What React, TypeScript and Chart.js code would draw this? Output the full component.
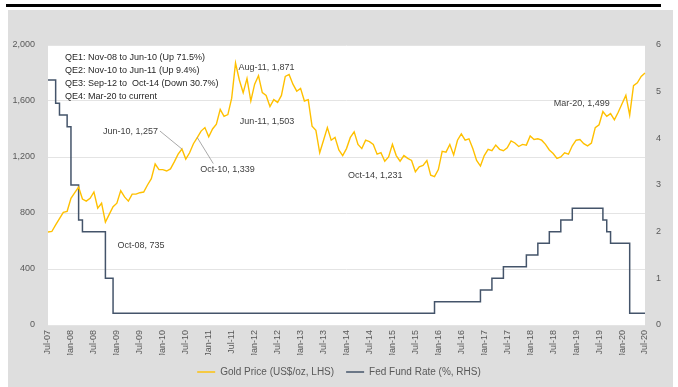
import React, { useEffect, useRef } from 'react';
import { Chart, registerables } from 'chart.js';

Chart.register(...registerables);

const months = [
  'Jul-07', 'Aug-07', 'Sep-07', 'Oct-07', 'Nov-07', 'Dec-07',
  'Jan-08', 'Feb-08', 'Mar-08', 'Apr-08', 'May-08', 'Jun-08', 'Jul-08', 'Aug-08', 'Sep-08', 'Oct-08', 'Nov-08', 'Dec-08',
  'Jan-09', 'Feb-09', 'Mar-09', 'Apr-09', 'May-09', 'Jun-09', 'Jul-09', 'Aug-09', 'Sep-09', 'Oct-09', 'Nov-09', 'Dec-09',
  'Jan-10', 'Feb-10', 'Mar-10', 'Apr-10', 'May-10', 'Jun-10', 'Jul-10', 'Aug-10', 'Sep-10', 'Oct-10', 'Nov-10', 'Dec-10',
  'Jan-11', 'Feb-11', 'Mar-11', 'Apr-11', 'May-11', 'Jun-11', 'Jul-11', 'Aug-11', 'Sep-11', 'Oct-11', 'Nov-11', 'Dec-11',
  'Jan-12', 'Feb-12', 'Mar-12', 'Apr-12', 'May-12', 'Jun-12', 'Jul-12', 'Aug-12', 'Sep-12', 'Oct-12', 'Nov-12', 'Dec-12',
  'Jan-13', 'Feb-13', 'Mar-13', 'Apr-13', 'May-13', 'Jun-13', 'Jul-13', 'Aug-13', 'Sep-13', 'Oct-13', 'Nov-13', 'Dec-13',
  'Jan-14', 'Feb-14', 'Mar-14', 'Apr-14', 'May-14', 'Jun-14', 'Jul-14', 'Aug-14', 'Sep-14', 'Oct-14', 'Nov-14', 'Dec-14',
  'Jan-15', 'Feb-15', 'Mar-15', 'Apr-15', 'May-15', 'Jun-15', 'Jul-15', 'Aug-15', 'Sep-15', 'Oct-15', 'Nov-15', 'Dec-15',
  'Jan-16', 'Feb-16', 'Mar-16', 'Apr-16', 'May-16', 'Jun-16', 'Jul-16', 'Aug-16', 'Sep-16', 'Oct-16', 'Nov-16', 'Dec-16',
  'Jan-17', 'Feb-17', 'Mar-17', 'Apr-17', 'May-17', 'Jun-17', 'Jul-17', 'Aug-17', 'Sep-17', 'Oct-17', 'Nov-17', 'Dec-17',
  'Jan-18', 'Feb-18', 'Mar-18', 'Apr-18', 'May-18', 'Jun-18', 'Jul-18', 'Aug-18', 'Sep-18', 'Oct-18', 'Nov-18', 'Dec-18',
  'Jan-19', 'Feb-19', 'Mar-19', 'Apr-19', 'May-19', 'Jun-19', 'Jul-19', 'Aug-19', 'Sep-19', 'Oct-19', 'Nov-19', 'Dec-19',
  'Jan-20', 'Feb-20', 'Mar-20', 'Apr-20', 'May-20', 'Jun-20', 'Jul-20',
];

const tickLabels = [
  'Jul-07', 'Jan-08', 'Jul-08', 'Jan-09', 'Jul-09', 'Jan-10', 'Jul-10', 'Jan-11', 'Jul-11',
  'Jan-12', 'Jul-12', 'Jan-13', 'Jul-13', 'Jan-14', 'Jul-14', 'Jan-15', 'Jul-15', 'Jan-16',
  'Jul-16', 'Jan-17', 'Jul-17', 'Jan-18', 'Jul-18', 'Jan-19', 'Jul-19', 'Jan-20', 'Jul-20',
];

// Gold price, US$/oz (LHS)
const goldPrice = [
  664, 668, 715, 760, 805, 812,
  905, 945, 985, 900, 885, 905, 950, 835, 870, 735, 790, 845,
  870, 960, 915, 885, 935, 935, 945, 950, 1000, 1045, 1150, 1110,
  1110, 1100, 1115, 1165, 1220, 1257, 1185, 1230, 1295, 1339, 1385, 1410,
  1345, 1400, 1435, 1540, 1490, 1503, 1620, 1871, 1750, 1660, 1760, 1600,
  1720, 1780, 1660, 1640, 1560, 1610, 1590, 1640, 1776, 1790, 1720, 1670,
  1690, 1600, 1610, 1420, 1390, 1230, 1320, 1410, 1320, 1340, 1250, 1210,
  1260, 1340, 1380, 1290, 1260, 1320, 1310, 1290, 1220, 1231, 1170, 1200,
  1290, 1210, 1170, 1210, 1190, 1175, 1095, 1130, 1140, 1175, 1070, 1060,
  1110, 1240, 1235, 1290, 1215, 1320, 1365, 1320, 1330, 1260, 1175, 1135,
  1210, 1255, 1245, 1285, 1255, 1245, 1265, 1315, 1300, 1275, 1290, 1285,
  1350, 1325, 1330, 1320, 1290, 1250, 1225, 1190, 1200, 1230, 1220, 1280,
  1320, 1325, 1295, 1280, 1300, 1410, 1430, 1525, 1490, 1510, 1465, 1520,
  1580, 1640, 1499, 1710, 1730, 1775, 1800,
];

// Fed funds rate, % (RHS)
const fedFundRate = [
  5.25, 5.25, 4.75, 4.5, 4.5, 4.25,
  3.0, 3.0, 2.25, 2.0, 2.0, 2.0, 2.0, 2.0, 2.0, 1.0, 1.0, 0.25,
  0.25, 0.25, 0.25, 0.25, 0.25, 0.25, 0.25, 0.25, 0.25, 0.25, 0.25, 0.25,
  0.25, 0.25, 0.25, 0.25, 0.25, 0.25, 0.25, 0.25, 0.25, 0.25, 0.25, 0.25,
  0.25, 0.25, 0.25, 0.25, 0.25, 0.25, 0.25, 0.25, 0.25, 0.25, 0.25, 0.25,
  0.25, 0.25, 0.25, 0.25, 0.25, 0.25, 0.25, 0.25, 0.25, 0.25, 0.25, 0.25,
  0.25, 0.25, 0.25, 0.25, 0.25, 0.25, 0.25, 0.25, 0.25, 0.25, 0.25, 0.25,
  0.25, 0.25, 0.25, 0.25, 0.25, 0.25, 0.25, 0.25, 0.25, 0.25, 0.25, 0.25,
  0.25, 0.25, 0.25, 0.25, 0.25, 0.25, 0.25, 0.25, 0.25, 0.25, 0.25, 0.5,
  0.5, 0.5, 0.5, 0.5, 0.5, 0.5, 0.5, 0.5, 0.5, 0.5, 0.5, 0.75,
  0.75, 0.75, 1.0, 1.0, 1.0, 1.25, 1.25, 1.25, 1.25, 1.25, 1.25, 1.5,
  1.5, 1.5, 1.75, 1.75, 1.75, 2.0, 2.0, 2.0, 2.25, 2.25, 2.25, 2.5,
  2.5, 2.5, 2.5, 2.5, 2.5, 2.5, 2.5, 2.25, 2.0, 1.75, 1.75, 1.75,
  1.75, 1.75, 0.25, 0.25, 0.25, 0.25, 0.25,
];

const qeNotes = [
  'QE1: Nov-08 to Jun-10 (Up 71.5%)',
  'QE2: Nov-10 to Jun-11 (Up 9.4%)',
  'QE3: Sep-12 to  Oct-14 (Down 30.7%)',
  'QE4: Mar-20 to current',
];

const calloutMonths = ['Oct-08', 'Jun-10', 'Oct-10', 'Jun-11', 'Aug-11', 'Oct-14', 'Mar-20'];
const calloutTexts = [
  'Oct-08, 735', 'Jun-10, 1,257', 'Oct-10, 1,339', 'Jun-11, 1,503',
  'Aug-11, 1,871', 'Oct-14, 1,231', 'Mar-20, 1,499',
];

const seriesNames = ['Gold Price (US$/oz, LHS)', 'Fed Fund Rate (%, RHS)'];

// ---- styling / layout ----
const W = 678;
const H = 387;
const FONT = "'Liberation Sans', Arial, sans-serif";
const GOLD = '#FFC000';
const NAVY = '#44546A';
const PANEL = '#dedede';
const PLOT_LEFT = 48;
const PLOT_RIGHT = 645;
const PLOT_TOP = 45;
const PLOT_BOTTOM = 325;

// offsets of each callout text from its data point
const calloutLayout = [
  { dx: 12, dy: 23, align: 'left', leader: null },
  { dx: -24, dy: -18, align: 'right', leader: [-22, -18] },
  { dx: 3, dy: 32, align: 'left', leader: [16, 26] },
  { dx: 12, dy: 7, align: 'left', leader: null },
  { dx: 3, dy: 4, align: 'left', leader: null },
  { dx: -33, dy: 23, align: 'left', leader: null },
  { dx: -20, dy: -12, align: 'right', leader: null },
];

const backgroundPlugin = {
  id: 'panelBackground',
  beforeDraw(chart: any) {
    const { ctx, chartArea } = chart;
    ctx.save();
    ctx.fillStyle = '#ffffff';
    ctx.fillRect(0, 0, W, H);
    ctx.fillStyle = PANEL;
    ctx.fillRect(8, 10, 665, H - 10);
    ctx.fillStyle = '#000000';
    ctx.fillRect(6, 4, 655, 3);
    ctx.fillStyle = '#ffffff';
    ctx.fillRect(chartArea.left, chartArea.top, chartArea.right - chartArea.left, chartArea.bottom - chartArea.top);
    ctx.restore();
  },
};

const annotationPlugin = {
  id: 'goldAnnotations',
  afterDatasetsDraw(chart: any) {
    const { ctx, chartArea, scales } = chart;
    const xs = scales.x;
    const ys = scales.y;
    ctx.save();
    ctx.font = `9px ${FONT}`;
    ctx.fillStyle = '#1f1f1f';
    ctx.textAlign = 'left';
    ctx.textBaseline = 'middle';
    qeNotes.forEach((t, i) => {
      ctx.fillText(t, chartArea.left + 17, chartArea.top + 13 + i * 12.7);
    });
    ctx.fillStyle = '#404040';
    ctx.strokeStyle = '#8c8c8c';
    ctx.lineWidth = 0.75;
    calloutMonths.forEach((m, i) => {
      const idx = months.indexOf(m);
      const px = xs.getPixelForValue(idx);
      const py = ys.getPixelForValue(goldPrice[idx]);
      const lay = calloutLayout[i];
      if (lay.leader) {
        ctx.beginPath();
        ctx.moveTo(px + lay.leader[0], py + lay.leader[1]);
        ctx.lineTo(px, py);
        ctx.stroke();
      }
      ctx.textAlign = lay.align as CanvasTextAlign;
      ctx.fillText(calloutTexts[i], px + lay.dx, py + lay.dy);
    });
    ctx.restore();
  },
};

export default function App() {
  const canvasRef = useRef<HTMLCanvasElement | null>(null);

  useEffect(() => {
    document.body.style.margin = '0';
    const canvas = canvasRef.current;
    if (!canvas) return;
    const chart = new Chart(canvas, {
      type: 'line',
      data: {
        labels: months,
        datasets: [
          {
            label: seriesNames[0],
            data: goldPrice,
            borderColor: GOLD,
            backgroundColor: GOLD,
            borderWidth: 1.4,
            pointRadius: 0,
            tension: 0,
            yAxisID: 'y',
          },
          {
            label: seriesNames[1],
            data: fedFundRate,
            borderColor: NAVY,
            backgroundColor: NAVY,
            borderWidth: 1.5,
            pointRadius: 0,
            stepped: true,
            yAxisID: 'y1',
          },
        ],
      },
      options: {
        responsive: false,
        animation: false,
        events: [],
        layout: { padding: { top: PLOT_TOP, bottom: 0, left: 0, right: 0 } },
        plugins: {
          tooltip: { enabled: false },
          title: { display: false },
          legend: {
            display: true,
            position: 'bottom',
            labels: {
              usePointStyle: true,
              pointStyle: 'line',
              pointStyleWidth: 18,
              boxHeight: 9,
              padding: 12,
              color: '#595959',
              font: { family: FONT, size: 10 },
            },
          },
        },
        scales: {
          x: {
            type: 'category',
            offset: false,
            grid: { display: false, drawTicks: false },
            border: { display: false },
            ticks: {
              autoSkip: false,
              minRotation: 90,
              maxRotation: 90,
              padding: 5,
              color: '#595959',
              font: { family: FONT, size: 9 },
              callback: (_v: any, i: number) => (tickLabels.includes(months[i]) ? months[i] : ''),
            },
            afterFit: (scale: any) => {
              const lh = scale.chart.legend ? scale.chart.legend.height : 0;
              scale.height = H - PLOT_BOTTOM - lh;
            },
          },
          y: {
            type: 'linear',
            position: 'left',
            min: 0,
            max: 2000,
            grid: { color: '#e4e4e4', lineWidth: 1, drawTicks: false },
            border: { display: false },
            ticks: {
              stepSize: 400,
              padding: 13,
              color: '#595959',
              font: { family: FONT, size: 9 },
              callback: (v: any) => Number(v).toLocaleString('en-US'),
            },
            afterFit: (scale: any) => {
              scale.width = PLOT_LEFT;
            },
          },
          y1: {
            type: 'linear',
            position: 'right',
            min: 0,
            max: 6,
            grid: { display: false, drawTicks: false },
            border: { display: false },
            ticks: {
              stepSize: 1,
              padding: 11,
              color: '#595959',
              font: { family: FONT, size: 9 },
            },
            afterFit: (scale: any) => {
              scale.width = W - PLOT_RIGHT;
            },
          },
        },
      },
      plugins: [backgroundPlugin, annotationPlugin],
    });
    return () => chart.destroy();
  }, []);

  return (
    <div style={{ position: 'relative', width: W, height: H, background: '#fff' }}>
      <canvas ref={canvasRef} width={W} height={H} style={{ display: 'block', width: W, height: H }} />
    </div>
  );
}
